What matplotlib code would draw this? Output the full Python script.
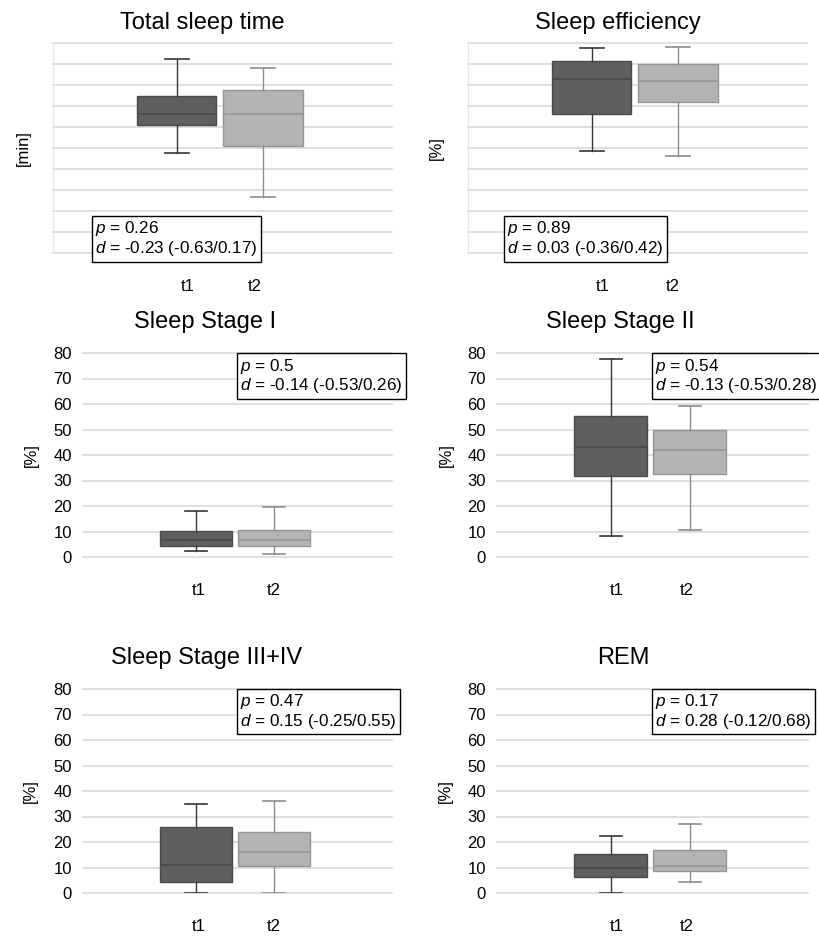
import matplotlib.pyplot as plt

plt.rcParams['font.family'] = ['Liberation Sans', 'DejaVu Sans']
plt.rcParams['mathtext.fontset'] = 'custom'
plt.rcParams['mathtext.it'] = 'Liberation Sans:italic'
plt.rcParams['mathtext.rm'] = 'Liberation Sans'

# Data: five-number summaries [whisker low, Q1, median, Q3, whisker high]
titles = ['Total sleep time', 'Sleep efficiency', 'Sleep Stage I',
          'Sleep Stage II', 'Sleep Stage III+IV', 'REM']
units = ['[min]', '[%]', '[%]', '[%]', '[%]', '[%]']
groups = ['t1', 't2']

tst_t1 = [237, 305, 330, 373, 463]
tst_t2 = [133, 255, 330, 387, 441]
eff_t1 = [48.4, 66.3, 82.7, 91.6, 97.5]
eff_t2 = [46.3, 71.9, 81.9, 89.8, 98.1]
s1_t1 = [2.2, 4.2, 6.8, 10.3, 17.9]
s1_t2 = [1.2, 4.2, 6.8, 10.7, 19.6]
s2_t1 = [8.4, 31.6, 43.1, 55.3, 77.8]
s2_t2 = [10.7, 32.7, 41.8, 49.8, 59.2]
s34_t1 = [0.0, 4.2, 11.0, 25.8, 34.8]
s34_t2 = [0.0, 10.4, 15.9, 24.0, 36.0]
rem_t1 = [0.0, 6.3, 9.7, 15.4, 22.2]
rem_t2 = [4.2, 8.6, 10.6, 16.8, 27.1]

p_values = ['0.26', '0.89', '0.5', '0.54', '0.47', '0.17']
d_values = ['-0.23 (-0.63/0.17)', '0.03 (-0.36/0.42)', '-0.14 (-0.53/0.26)',
            '-0.13 (-0.53/0.28)', '0.15 (-0.25/0.55)', '0.28 (-0.12/0.68)']

series = [(tst_t1, tst_t2), (eff_t1, eff_t2), (s1_t1, s1_t2),
          (s2_t1, s2_t2), (s34_t1, s34_t2), (rem_t1, rem_t2)]
y_ranges = [(0, 500, 50), (0, 100, 10), (0, 80, 10),
            (0, 80, 10), (0, 80, 10), (0, 80, 10)]
show_yticks = [False, False, True, True, True, True]

# layout (pixels in the 819x936 figure)
W, H = 819, 936
axes_px = [(53, 43, 392, 253), (468, 43, 807, 253),
           (83, 353, 392, 557), (497, 353, 808, 557),
           (83, 689, 392, 893), (497, 689, 808, 893)]
title_px = [(202, 23), (618, 23), (205, 322), (620, 322), (207, 658), (623, 658)]
label_px = [31, 444, 39, 454, 38, 453]
stat_pos = [(0.124, 0.160), (0.115, 0.160), (0.508, 0.982),
            (0.508, 0.982), (0.508, 0.985), (0.508, 0.985)]
xtick_pos = [(1.13, 1.91), (1.12, 1.94), (1.04, 1.99),
             (1.08, 1.96), (1.04, 1.99), (1.08, 1.96)]

fills = ['#5f5f5f', '#b3b3b3']
edges = ['#4a4a4a', '#959595']
whisk = ['#363636', '#8c8c8c']

fig = plt.figure(figsize=(W / 100, H / 100), dpi=100)

for i in range(6):
    l, t, r, b = axes_px[i]
    ax = fig.add_axes([l / W, 1 - b / H, (r - l) / W, (b - t) / H])
    lo, hi, step = y_ranges[i]
    for j, vals in enumerate(series[i]):
        stats = [dict(whislo=vals[0], q1=vals[1], med=vals[2],
                      q3=vals[3], whishi=vals[4], fliers=[])]
        ax.bxp(stats, positions=[j + 1], widths=0.92, capwidths=0.28,
               patch_artist=True, showfliers=False,
               boxprops=dict(facecolor=fills[j], edgecolor=edges[j], linewidth=1),
               medianprops=dict(color=edges[j], linewidth=1.2),
               whiskerprops=dict(color=whisk[j], linewidth=1),
               capprops=dict(color=whisk[j], linewidth=1.2))
    ax.set_xlim(-0.44, 3.5)
    ax.set_ylim(lo, hi)
    ax.set_yticks(range(lo, hi + 1, step))
    ax.grid(axis='y', color='#d9d9d9', linewidth=1.2)
    for gl in ax.get_ygridlines():
        gl.set_clip_on(False)
    ax.set_axisbelow(True)
    for s in ax.spines.values():
        s.set_visible(False)
    if not show_yticks[i]:
        ax.spines['left'].set_visible(True)
        ax.spines['left'].set_color('#e6e6e6')
    ax.set_xticks(xtick_pos[i])
    ax.set_xticklabels(groups, fontsize=12)
    ax.tick_params(axis='x', length=0, pad=19)
    ax.tick_params(axis='y', length=0, pad=8, labelsize=12)
    if not show_yticks[i]:
        ax.set_yticklabels([])
    ax.set_ylabel(units[i], fontsize=12)
    ax.yaxis.set_label_coords((label_px[i] - l) / (r - l), 0.5)

    tx, ty = title_px[i]
    fig.text(tx / W, 1 - ty / H, titles[i], fontsize=17, ha='center', va='center')

    sx, sy = stat_pos[i]
    ax.text(sx, sy, '$p$ = ' + p_values[i] + '\n$d$ = ' + d_values[i],
            transform=ax.transAxes, ha='left', va='top', fontsize=12.3,
            linespacing=1.05, clip_on=False, zorder=5,
            bbox=dict(boxstyle='square,pad=0.2', facecolor='white',
                      edgecolor='black', linewidth=1))

fig.savefig('out.png', dpi=100)
